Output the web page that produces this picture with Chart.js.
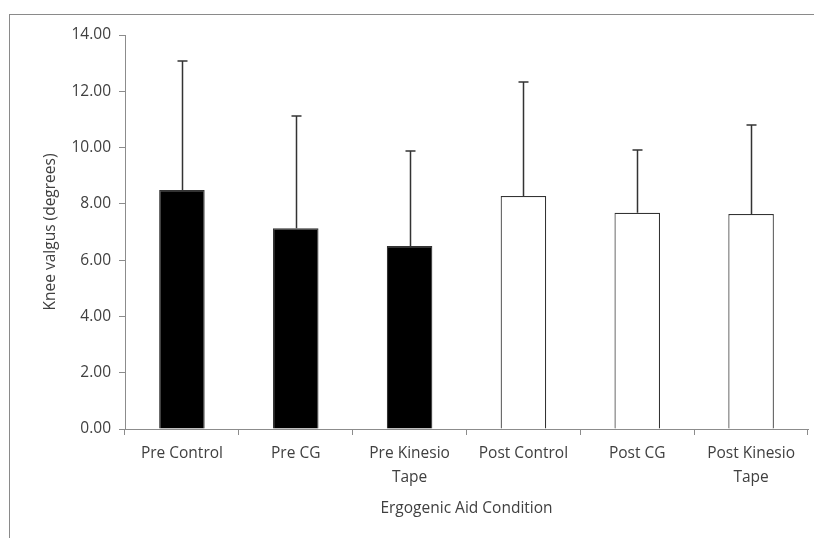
<!DOCTYPE html>
<html>
<head>
<meta charset="utf-8">
<script src="https://cdn.jsdelivr.net/npm/chart.js@4"></script>
<style>
  html, body { margin: 0; padding: 0; background: #fff; }
  #wrap { width: 814px; height: 538px; position: relative; }
</style>
</head>
<body>
<div id="wrap"><canvas id="kneeChart"></canvas></div>
<script>
// values
const categories = [['Pre Control'], ['Pre CG'], ['Pre Kinesio', 'Tape'], ['Post Control'], ['Post CG'], ['Post Kinesio', 'Tape']];
const meanValgus = [8.49, 7.13, 6.50, 8.28, 7.68, 7.64];
const sdValgus = [4.59, 3.99, 3.38, 4.05, 2.23, 3.16];
const barFills = ['#000000', '#000000', '#000000', '#ffffff', '#ffffff', '#ffffff'];
const yTicks = [0, 2, 4, 6, 8, 10, 12, 14];

const textColor = '#404040';
const axisColor = '#8c8c8c';
const labelFont = { family: 'Open Sans', size: 15.5 };

// upper-only error bars, excel style
const errorBars = {
  id: 'errorBars',
  afterDatasetsDraw(chart) {
    const ctx = chart.ctx;
    const yScale = chart.scales.y;
    const meta = chart.getDatasetMeta(0);
    ctx.save();
    ctx.strokeStyle = '#333';
    ctx.lineWidth = 1.5;
    meta.data.forEach((bar, i) => {
      const x = Math.round(bar.x) + 0.5;
      const top = yScale.getPixelForValue(meanValgus[i] + sdValgus[i]);
      ctx.beginPath();
      ctx.moveTo(x, bar.y);
      ctx.lineTo(x, top);
      ctx.moveTo(x - 5, top);
      ctx.lineTo(x + 5, top);
      ctx.stroke();
    });
    ctx.restore();
  }
};

const frame = {
  id: 'frame',
  beforeDraw(chart) {
    const ctx = chart.ctx;
    ctx.save();
    ctx.strokeStyle = '#8a8a8a';
    ctx.lineWidth = 1;
    ctx.strokeRect(9.5, 14.5, 900, 700);
    ctx.restore();
  }
};

const ctx = document.getElementById('kneeChart').getContext('2d');
const myChart = new Chart(ctx, {
  type: 'bar',
  data: {
    labels: categories,
    datasets: [{
      data: meanValgus,
      backgroundColor: barFills,
      borderColor: '#333',
      borderWidth: 1.2,
      barPercentage: 0.4,
      categoryPercentage: 1.0
    }]
  },
  options: {
    responsive: true,
    maintainAspectRatio: false,
    animation: false,
    layout: { padding: { left: 10, right: 6, top: 35, bottom: 0 } },
    plugins: {
      legend: { display: false },
      tooltip: { enabled: false }
    },
    scales: {
      x: {
        afterFit(scale) { scale.height = 109; },
        grid: { drawOnChartArea: false, color: axisColor, tickLength: 6, offset: true },
        border: { color: axisColor, width: 1 },
        ticks: {
          color: textColor,
          font: { ...labelFont, lineHeight: 1.55 },
          padding: 7,
          maxRotation: 0,
          autoSkip: false
        },
        title: {
          display: true,
          text: 'Ergogenic Aid Condition',
          color: textColor,
          font: labelFont,
          padding: { top: 6, bottom: 20 }
        }
      },
      y: {
        min: 0,
        max: 14,
        afterFit(scale) { scale.width = 115; },
        afterBuildTicks(scale) { scale.ticks = yTicks.map(v => ({ value: v })); },
        grid: { drawOnChartArea: false, color: axisColor, tickLength: 6 },
        border: { color: axisColor, width: 1 },
        ticks: {
          color: textColor,
          font: labelFont,
          padding: 8,
          callback: v => v.toFixed(2)
        },
        title: {
          display: true,
          text: 'Knee valgus (degrees)',
          color: textColor,
          font: labelFont,
          padding: { top: 31, bottom: 0 }
        }
      }
    }
  },
  plugins: [frame, errorBars]
});
</script>
</body>
</html>
